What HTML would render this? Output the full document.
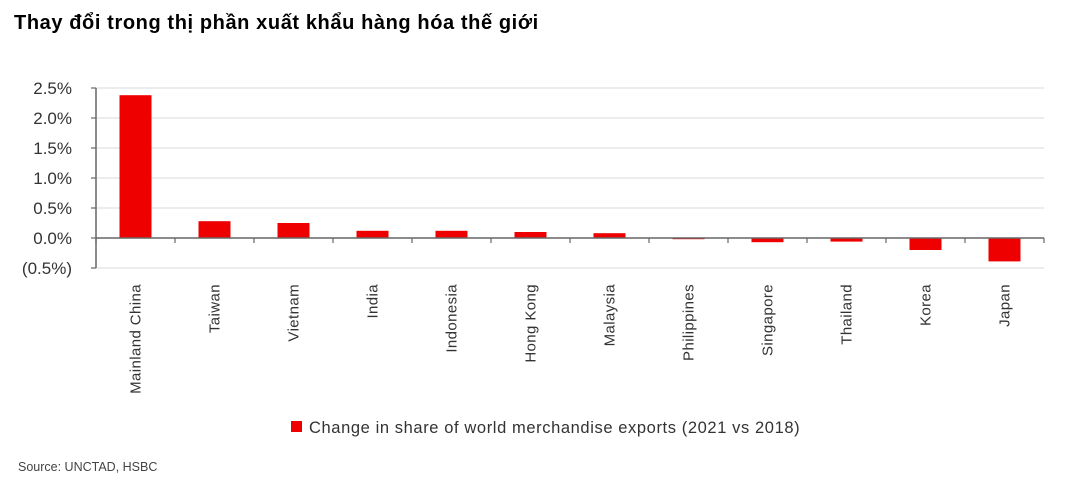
<!DOCTYPE html>
<html><head><meta charset="utf-8"><style>
body{margin:0;background:#fff;width:1065px;height:480px;overflow:hidden;font-family:"Liberation Sans",Arial,sans-serif}
svg text{font-family:"Liberation Sans",Arial,sans-serif}
</style></head><body>
<svg width="1065" height="480" xmlns="http://www.w3.org/2000/svg">
<text x="14" y="29" font-size="20" letter-spacing="0.6" font-weight="bold" fill="#000">Thay đổi trong thị phần xuất khẩu hàng hóa thế giới</text>
<g id="plot"></g>
<rect x="291" y="421" width="11" height="11" fill="#ee0000"/>
<text x="309" y="433" font-size="16.5" letter-spacing="0.6" fill="#333">Change in share of world merchandise exports (2021 vs 2018)</text>
<text x="18" y="471" font-size="12.5" fill="#444">Source: UNCTAD, HSBC</text>
</svg>
<script>
const categories=["Mainland China","Taiwan","Vietnam","India","Indonesia","Hong Kong","Malaysia","Philippines","Singapore","Thailand","Korea","Japan"];
const values=[2.38,0.28,0.25,0.12,0.12,0.10,0.08,-0.02,-0.07,-0.06,-0.20,-0.39];
const tickValues=[2.5,2.0,1.5,1.0,0.5,0.0,-0.5];
const tickLabels=["2.5%","2.0%","1.5%","1.0%","0.5%","0.0%","(0.5%)"];
const NS="http://www.w3.org/2000/svg";
const g=document.getElementById('plot');
const x0=96,x1=1044,y0=238,ppu=60;
const y=v=>y0-v*ppu;
const bw=(x1-x0)/categories.length;
const xc=i=>x0+bw*(i+0.5);
function mk(t,a){const e=document.createElementNS(NS,t);for(const k in a)e.setAttribute(k,a[k]);g.appendChild(e);return e;}
tickValues.forEach((v,i)=>{
 if(v!==0){const l=mk('line',{x1:x0,x2:x1,y1:y(v),y2:y(v),stroke:'#e6e6e6','stroke-width':1.5});
 
 }
 const tk=mk('line',{x1:x0-5,x2:x0,y1:y(v),y2:y(v),stroke:'#666','stroke-width':1.2});
 
 
 const t=mk('text',{x:x0-24,y:y(v)+6,'text-anchor':'end','font-size':17,fill:'#333'});
 t.textContent=tickLabels[i];
 
 
});
values.forEach((v,i)=>{
 const r=mk('rect',{x:xc(i)-16,y:Math.min(y(v),y0),width:32,height:Math.max(Math.abs(v*ppu),1),fill:'#ee0000'});
 
 
 const t=mk('text',{transform:`translate(${xc(i)+5},284) rotate(-90)`,'text-anchor':'end','font-size':15,'letter-spacing':0.4,fill:'#333'});
 t.textContent=categories[i];
 
 
});
for(let i=0;i<=categories.length;i++){
 const tk=mk('line',{x1:x0+bw*i,x2:x0+bw*i,y1:y0,y2:y0+5,stroke:'#666','stroke-width':1.2});
 
 
}
const ya=mk('line',{x1:x0,x2:x0,y1:y(2.5),y2:y(-0.5),stroke:'#666','stroke-width':1.5});


const xa=mk('line',{x1:x0,x2:x1,y1:y0,y2:y0,stroke:'#666','stroke-width':1.5});


</script>
</body></html>
